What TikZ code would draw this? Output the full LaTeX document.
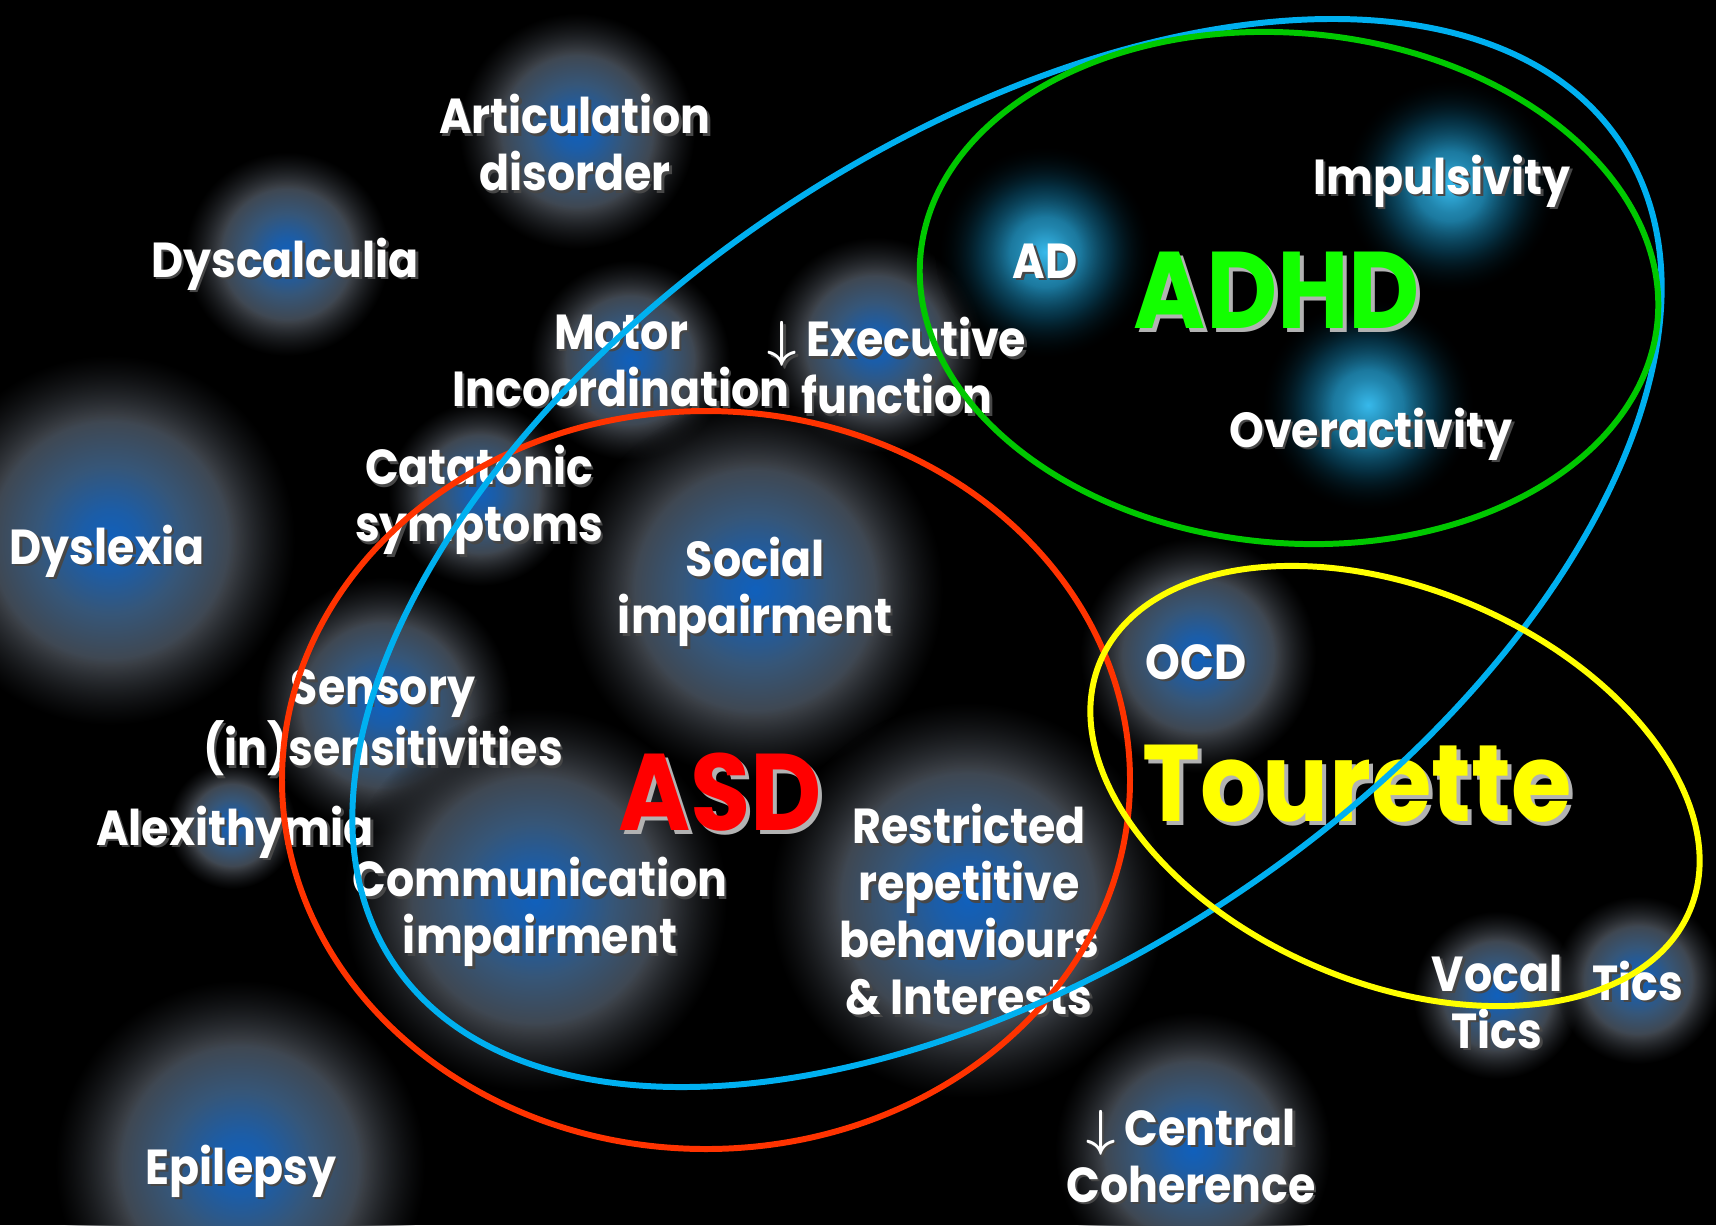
\documentclass[tikz,border=0pt]{standalone}
\usepackage{fontspec}
\setmainfont{Poppins}[FakeStretch=0.9]
\usetikzlibrary{fadings}

\definecolor{blobcore}{RGB}{16,96,188}
\definecolor{blobmid}{RGB}{54,86,120}
\definecolor{blobrim}{RGB}{64,69,76}
\definecolor{adcore}{RGB}{55,185,235}
\definecolor{admid}{RGB}{10,80,110}
\definecolor{asdred}{RGB}{255,51,0}
\definecolor{autblue}{RGB}{0,176,240}
\definecolor{adhdgreen}{RGB}{0,200,0}
\definecolor{tsyellow}{RGB}{255,255,0}

% soft blue spots behind the labels
\pgfdeclareradialshading{blobshade}{\pgfpointorigin}{color(0bp)=(blobcore); color(4bp)=(blobcore!70!blobmid); color(10bp)=(blobmid); color(17bp)=(blobrim); color(25bp)=(blobrim!60!black); color(50bp)=(black)}
\pgfdeclareradialshading{blobmask}{\pgfpointorigin}{color(0bp)=(pgftransparent!0); color(16bp)=(pgftransparent!0); color(25bp)=(pgftransparent!100); color(50bp)=(pgftransparent!100)}
\pgfdeclarefading{blobfade}{\pgfuseshading{blobmask}}
% cyan spots inside the ADHD ring
\pgfdeclareradialshading{adshade}{\pgfpointorigin}{color(0bp)=(adcore); color(6bp)=(adcore!50!admid); color(15bp)=(admid); color(25bp)=(black); color(50bp)=(black)}
\pgfdeclareradialshading{admask}{\pgfpointorigin}{color(0bp)=(pgftransparent!0); color(8bp)=(pgftransparent!0); color(25bp)=(pgftransparent!100); color(50bp)=(pgftransparent!100)}
\pgfdeclarefading{adfade}{\pgfuseshading{admask}}

\tikzset{
  lbl/.style={text=white, font=\fontsize{14}{16.2}\selectfont\bfseries, align=center, inner sep=0pt, yshift=-1.1pt},
  lblshade/.style={lbl, text=black!72, shift={(2.5,2.5)}},
  big/.style={font=\fontsize{31}{31}\selectfont\bfseries, inner sep=0pt},
  bigshade/.style={big, text=white!70!black, shift={(4,4)}},
  ring/.style={line width=1.7pt},
}
\newcommand\lbl[3]{%
  \node[lblshade] at (#2) {#3};
  \node[lbl] (#1) at (#2) {#3};}
\newcommand\biglbl[4]{%
  \node[bigshade] at (#3) {#4};
  \node[big, text=#2] (#1) at (#3) {#4};}
\newcommand\dn{{\boldmath$\downarrow$}}

\begin{document}
\begin{tikzpicture}[x=0.1mm, y=-0.1mm]
  \fill[black] (0,0) rectangle (1716,1225);
  \useasboundingbox (0,0) rectangle (1716,1225);

  % glows
  \foreach \x/\y/\r in {577/131/118, 287/254/102, 110/540/185, 630/360/100,
      875/345/108, 480/494/92, 755/590/188, 384/705/128, 232/825/64,
      535/900/192, 968/900/198, 240/1165/185, 1193/1150/138, 1198/655/118,
      1497/995/84, 1638/980/84}
    \fill[shading=blobshade, path fading=blobfade] (\x,\y) circle (\r);
  \foreach \x/\y in {1045/252, 1450/186, 1368/405}
    \fill[shading=adshade, path fading=adfade] (\x,\y) circle (110);

  % labels
  \lbl{artic}{575,139}{Articulation\\disorder}
  \lbl{dyscalc}{285,260}{Dyscalculia}
  \lbl{motor}{621,357}{Motor\\Incoordination}
  \lbl{exec}{897,362}{\dn\ Executive\\function}
  \lbl{catat}{479,496}{Catatonic\\symptoms}
  \lbl{dyslex}{107,547}{Dyslexia}
  \lbl{social}{755,588}{Social\\impairment}
  \lbl{sensory}{383,719}{Sensory\\(in)sensitivities}
  \lbl{alexi}{235,828}{Alexithymia}
  \lbl{comm}{540,908}{Communication\\impairment}
  \lbl{restr}{969,906}{Restricted\\repetitive\\behaviours\\\& Interests}
  \lbl{epil}{241,1167}{Epilepsy}
  \lbl{central}{1191,1152}{\dn\ Central\\Coherence}
  \lbl{ocd}{1196,658}{OCD}
  \lbl{vocal}{1497,998}{Vocal\\Tics}
  \lbl{tics}{1638,977}{Tics}
  \lbl{ad}{1045,257}{AD}
  \lbl{impuls}{1442,177}{Impulsivity}
  \lbl{overact}{1371,430}{Overactivity}

  \biglbl{asd}{red}{720,792}{ASD}
  \biglbl{adhd}{green!90!lime}{1277,290}{ADHD}
  \biglbl{tourette}{tsyellow}{1357,784}{Tourette}

  % rings
  \draw[ring, asdred] (706,780) ellipse [x radius=424, y radius=369];
  \draw[ring, autblue, rotate around={33.8:(1007,553)}] (1007,553) ellipse [x radius=738, y radius=411];
  \draw[ring, adhdgreen, rotate around={-5:(1289,288)}] (1289,288) ellipse [x radius=370, y radius=255];
  \draw[ring, tsyellow, rotate around={-22.9:(1395,786)}] (1395,786) ellipse [x radius=320, y radius=197];
\end{tikzpicture}
\end{document}
